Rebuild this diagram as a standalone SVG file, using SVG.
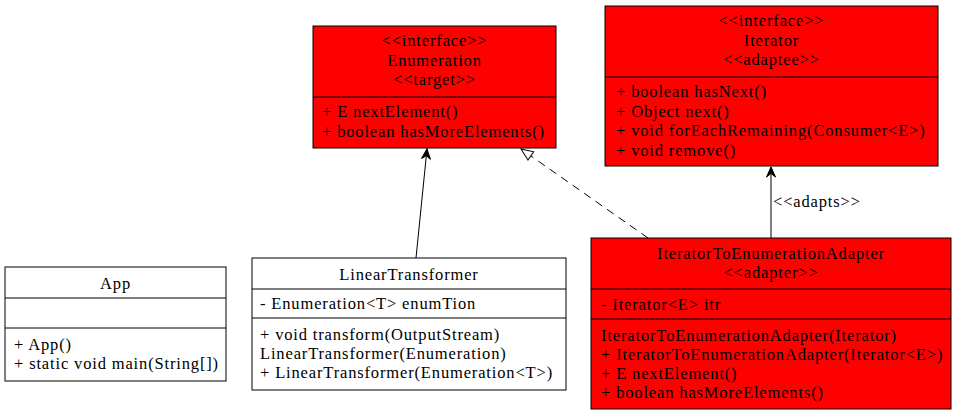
<svg xmlns="http://www.w3.org/2000/svg" width="957" height="416" viewBox="0 0 957 416">
<defs>
<style>
text{font-family:"Liberation Serif","Times New Roman",serif;font-size:16.5px;letter-spacing:0.85px;fill:#000}
.c{text-anchor:middle}
.box{stroke:#000;stroke-width:1}
.red{fill:#ff0000}
.white{fill:#ffffff}
.sep{stroke:#000;stroke-width:1}
.edge{stroke:#000;stroke-width:1;fill:none}
</style>
<marker id="vee" viewBox="0 0 12 12" refX="11" refY="6" markerWidth="12" markerHeight="12" markerUnits="userSpaceOnUse" orient="auto">
<path d="M1,1.5 L11,6 L1,10.5 L4.5,6 Z" fill="#000" stroke="#000" stroke-width="1"/>
</marker>
<marker id="tri" viewBox="0 0 14 12" refX="13" refY="6" markerWidth="14" markerHeight="12" markerUnits="userSpaceOnUse" orient="auto">
<path d="M1,1 L13,6 L1,11 Z" fill="#fff" stroke="#000" stroke-width="1"/>
</marker>
</defs>
<rect width="957" height="416" fill="#fff"/>

<g id="App">
<rect class="box white" x="5" y="267" width="221" height="114"/>
<line class="sep" x1="5" y1="298" x2="226" y2="298"/>
<line class="sep" x1="5" y1="328" x2="226" y2="328"/>
<text class="c" x="115.5" y="289">App</text>
<text x="14" y="350">+ App()</text>
<text x="14" y="369">+ static void main(String[])</text>
</g>

<g id="LinearTransformer">
<rect class="box white" x="252" y="258" width="314" height="132"/>
<line class="sep" x1="252" y1="289" x2="566" y2="289"/>
<line class="sep" x1="252" y1="318" x2="566" y2="318"/>
<text class="c" x="409" y="280">LinearTransformer</text>
<text x="260" y="309">- Enumeration&lt;T&gt; enumTion</text>
<text x="260" y="340">+ void transform(OutputStream)</text>
<text x="260" y="359">LinearTransformer(Enumeration)</text>
<text x="260" y="378">+ LinearTransformer(Enumeration&lt;T&gt;)</text>
</g>

<g id="IteratorToEnumerationAdapter">
<rect class="box red" x="591" y="238" width="360" height="171"/>
<line class="sep" x1="591" y1="289" x2="951" y2="289"/>
<line class="sep" x1="591" y1="319" x2="951" y2="319"/>
<text class="c" x="771" y="259">IteratorToEnumerationAdapter</text>
<text class="c" x="771" y="278">&lt;&lt;adapter&gt;&gt;</text>
<text x="601" y="310">- Iterator&lt;E&gt; itr</text>
<text x="601" y="341">IteratorToEnumerationAdapter(Iterator)</text>
<text x="601" y="360">+ IteratorToEnumerationAdapter(Iterator&lt;E&gt;)</text>
<text x="601" y="379">+ E nextElement()</text>
<text x="601" y="398">+ boolean hasMoreElements()</text>
</g>

<g id="Enumeration">
<rect class="box red" x="313" y="26" width="243" height="122"/>
<line class="sep" x1="313" y1="97" x2="556" y2="97"/>
<text class="c" x="434.5" y="46">&lt;&lt;interface&gt;&gt;</text>
<text class="c" x="434.5" y="66">Enumeration</text>
<text class="c" x="434.5" y="85">&lt;&lt;target&gt;&gt;</text>
<text x="322" y="117">+ E nextElement()</text>
<text x="322" y="137">+ boolean hasMoreElements()</text>
</g>

<g id="Iterator">
<rect class="box red" x="605" y="6" width="333" height="160"/>
<line class="sep" x1="605" y1="77" x2="938" y2="77"/>
<text class="c" x="771.5" y="26">&lt;&lt;interface&gt;&gt;</text>
<text class="c" x="771.5" y="46">Iterator</text>
<text class="c" x="771.5" y="65">&lt;&lt;adaptee&gt;&gt;</text>
<text x="616" y="97">+ boolean hasNext()</text>
<text x="616" y="117">+ Object next()</text>
<text x="616" y="136">+ void forEachRemaining(Consumer&lt;E&gt;)</text>
<text x="616" y="156">+ void remove()</text>
</g>

<g id="connectors">
<line class="edge" x1="416" y1="258" x2="427" y2="149" marker-end="url(#vee)"/>
<line class="edge" x1="648" y1="238" x2="521" y2="149" stroke-dasharray="8,6" marker-end="url(#tri)"/>
<line class="edge" x1="771" y1="238" x2="771" y2="167" marker-end="url(#vee)"/>
<text x="773" y="207">&lt;&lt;adapts&gt;&gt;</text>
</g>
</svg>
